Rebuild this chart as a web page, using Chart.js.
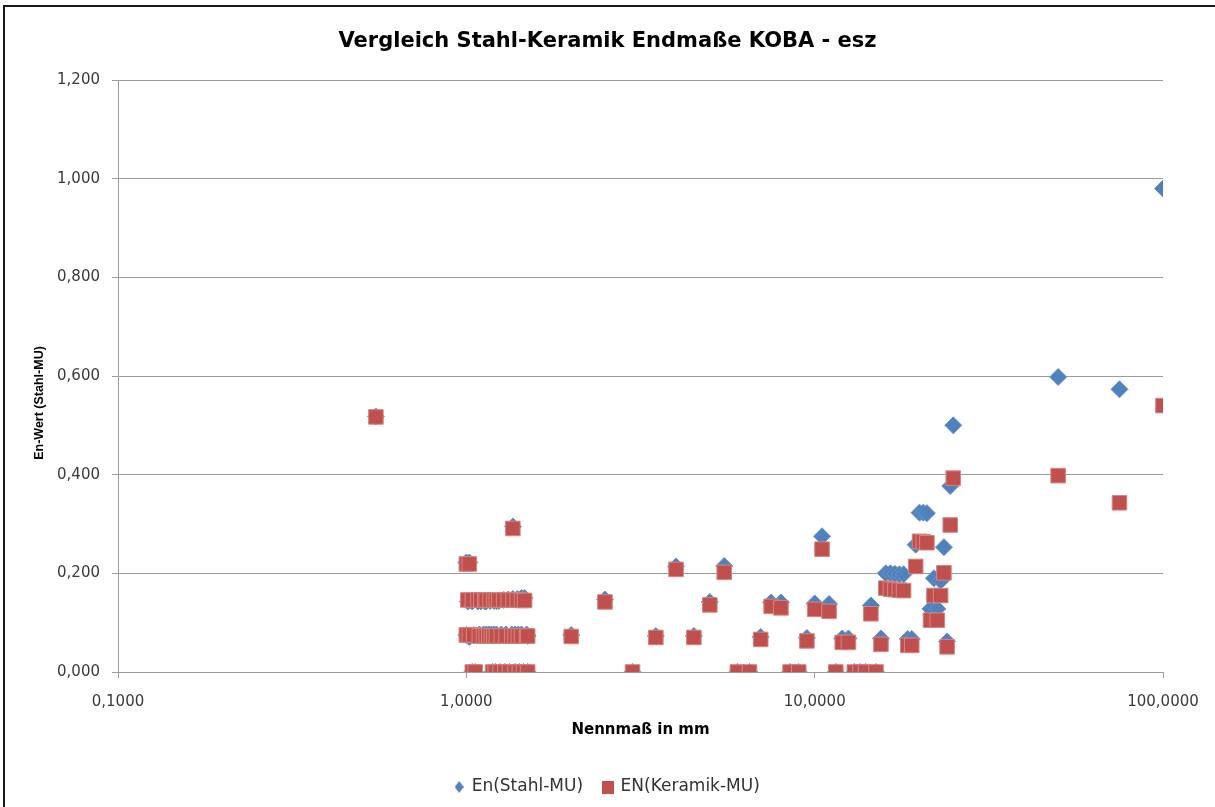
<!DOCTYPE html>
<html>
<head>
<meta charset="utf-8">
<script src="https://cdn.jsdelivr.net/npm/chart.js@4.4.1/dist/chart.umd.min.js"></script>
<style>
  html, body { margin: 0; padding: 0; background: #fff; }
  #wrap { position: relative; width: 1215px; height: 807px; overflow: hidden; }
  #c { position: absolute; left: 0; top: 0; }
  #frame { position: absolute; left: 3px; top: 5px; width: 1300px; height: 900px;
           border-left: 2px solid #1a1a1a; border-top: 2px solid #1a1a1a; pointer-events: none; }
</style>
</head>
<body>
<div id="wrap">
  <canvas id="c" width="1215" height="807"></canvas>
  <div id="frame"></div>
</div>
<script>
// ---- Data ----
const chartTitle = 'Vergleich Stahl-Keramik Endmaße KOBA - esz';
const xAxisTitle = 'Nennmaß in mm';
const yAxisTitle = 'En-Wert (Stahl-MU)';
const seriesNames = ['En(Stahl-MU)', 'EN(Keramik-MU)'];

const xTickValues = [0.1, 1, 10, 100];
const xTickLabels = ['0,1000', '1,0000', '10,0000', '100,0000'];
const yTickValues = [0, 0.2, 0.4, 0.6, 0.8, 1.0, 1.2];
const yTickLabels = ['0,000', '0,200', '0,400', '0,600', '0,800', '1,000', '1,200'];

// Nennmaß (mm)
const nennmass = [
  0.55,
  1.0, 1.02,
  1.36,
  1.01, 1.04, 1.08, 1.1, 1.13, 1.14, 1.17, 1.2, 1.22, 1.24, 1.28, 1.32, 1.36, 1.4, 1.44, 1.47,
  1.0, 1.02, 1.05, 1.09, 1.12, 1.14, 1.16, 1.18, 1.2, 1.22, 1.26, 1.3, 1.35, 1.38, 1.41, 1.44, 1.49, 1.5,
  1.04, 1.06, 1.19, 1.21, 1.25, 1.29, 1.33, 1.38, 1.42, 1.46, 1.5,
  2.0, 2.5, 3.0, 3.5, 4.0, 4.5, 5.0, 5.5, 6.0, 6.5, 7.0, 7.5, 8.0, 8.5, 9.0, 9.5,
  10, 10.5, 11, 11.5, 12, 12.5, 13, 13.5, 14, 14.5, 15, 15.5, 16, 16.5, 17, 17.5,
  18, 18.5, 19, 19.5, 20, 20.5, 21, 21.5, 22, 22.5, 23, 23.5, 24, 24.5, 25,
  50, 75, 100
];
// En(Stahl-MU)
const enStahl = [
  0.518,
  0.222, 0.222,
  0.295,
  0.143, 0.143, 0.143, 0.143, 0.143, 0.143, 0.144, 0.144, 0.144, 0.144, 0.146, 0.147, 0.148, 0.148, 0.150, 0.150,
  0.075, 0.071, 0.075, 0.076, 0.076, 0.076, 0.076, 0.076, 0.076, 0.076, 0.076, 0.076, 0.076, 0.076, 0.076, 0.076, 0.076, 0.073,
  0.0, 0.0, 0.0, 0.0, 0.0, 0.0, 0.0, 0.0, 0.0, 0.0, 0.0,
  0.075, 0.147, 0.0, 0.073, 0.214, 0.073, 0.142, 0.215, 0.0, 0.0, 0.071, 0.141, 0.141, 0.0, 0.0, 0.069,
  0.139, 0.275, 0.138, 0.0, 0.068, 0.068, 0.0, 0.0, 0.0, 0.135, 0.0, 0.068, 0.200, 0.200, 0.199, 0.198,
  0.198, 0.067, 0.067, 0.258, 0.323, 0.323, 0.322, 0.128, 0.190, 0.128, 0.185, 0.253, 0.062, 0.377, 0.500,
  0.598, 0.573, 0.980
];
// EN(Keramik-MU)
const enKeramik = [
  0.517,
  0.219, 0.219,
  0.291,
  0.146, 0.146, 0.146, 0.146, 0.146, 0.146, 0.146, 0.146, 0.146, 0.146, 0.146, 0.146, 0.146, 0.146, 0.145, 0.145,
  0.075, 0.075, 0.075, 0.073, 0.073, 0.073, 0.073, 0.073, 0.073, 0.073, 0.073, 0.073, 0.073, 0.073, 0.073, 0.073, 0.073, 0.073,
  0.0, 0.0, 0.0, 0.0, 0.0, 0.0, 0.0, 0.0, 0.0, 0.0, 0.0,
  0.072, 0.142, 0.0, 0.070, 0.208, 0.070, 0.136, 0.202, 0.0, 0.0, 0.066, 0.133, 0.130, 0.0, 0.0, 0.063,
  0.127, 0.249, 0.123, 0.0, 0.060, 0.060, 0.0, 0.0, 0.0, 0.118, 0.0, 0.056, 0.170, 0.168, 0.167, 0.166,
  0.165, 0.054, 0.054, 0.214, 0.265, 0.264, 0.262, 0.105, 0.155, 0.105, 0.155, 0.201, 0.051, 0.298, 0.393,
  0.398, 0.343, 0.540
];

const stahlPoints = nennmass.map((x, i) => ({ x: x, y: enStahl[i] }));
const keramikPoints = nennmass.map((x, i) => ({ x: x, y: enKeramik[i] }));

// small legend marker images
function makeMarker(kind) {
  const cv = document.createElement('canvas');
  if (kind === 'diamond') {
    cv.width = 9; cv.height = 12;
    const g = cv.getContext('2d');
    g.fillStyle = '#4F81BD';
    g.beginPath(); g.moveTo(4.5, 0); g.lineTo(9, 6); g.lineTo(4.5, 12); g.lineTo(0, 6); g.closePath(); g.fill();
  } else {
    cv.width = 12; cv.height = 13;
    const g = cv.getContext('2d');
    g.fillStyle = '#C0504D';
    g.fillRect(0, 0, 12, 13);
  }
  return cv;
}
const legendMarkers = [makeMarker('diamond'), makeMarker('square')];

const tickFont = { family: 'DejaVu Sans', size: 15 };
const gridColor = '#9c9c9c';

// y-axis title drawn rotated, positioned like the original (slightly below the plot centre)
const yTitlePlugin = {
  id: 'yTitle',
  afterDraw(chart) {
    const ctx = chart.ctx;
    ctx.save();
    ctx.translate(40, 403);
    ctx.rotate(-Math.PI / 2);
    ctx.font = 'bold 12.5px "Liberation Sans"';
    ctx.fillStyle = '#000';
    ctx.textAlign = 'center';
    ctx.textBaseline = 'middle';
    ctx.fillText(yAxisTitle, 0, 0);
    ctx.restore();
  }
};

new Chart(document.getElementById('c'), {
  type: 'scatter',
  data: {
    datasets: [
      {
        label: seriesNames[0],
        data: stahlPoints,
        pointStyle: 'rectRot',
        pointRadius: 8.5,
        pointHoverRadius: 8.5,
        backgroundColor: '#4F81BD',
        borderColor: '#6A94C8',
        borderWidth: 1,
        order: 2
      },
      {
        label: seriesNames[1],
        data: keramikPoints,
        pointStyle: 'rect',
        pointRadius: 10.3,
        pointHoverRadius: 10.3,
        backgroundColor: '#C0504D',
        borderColor: '#D58583',
        borderWidth: 1,
        order: 1
      }
    ]
  },
  plugins: [yTitlePlugin],
  options: {
    responsive: false,
    animation: false,
    devicePixelRatio: 1,
    layout: { padding: { left: 0, right: 0, top: 0, bottom: 1.5 } },
    plugins: {
      tooltip: { enabled: false },
      title: {
        display: true,
        text: chartTitle,
        color: '#000',
        font: { family: 'DejaVu Sans', size: 21, weight: 'bold' },
        padding: { top: 29.4, bottom: 25.4 }
      },
      legend: {
        position: 'bottom',
        labels: {
          color: '#333',
          font: { family: 'DejaVu Sans', size: 17 },
          usePointStyle: true,
          boxWidth: 8,
          boxHeight: 8,
          padding: 21,
          sort: (a, b) => a.datasetIndex - b.datasetIndex,
          generateLabels: (chart) => {
            const items = Chart.defaults.plugins.legend.labels.generateLabels(chart);
            items.forEach(it => { it.pointStyle = legendMarkers[it.datasetIndex]; });
            return items;
          }
        }
      }
    },
    scales: {
      x: {
        type: 'logarithmic',
        min: 0.1,
        max: 100,
        afterBuildTicks: (scale) => { scale.ticks = xTickValues.map(v => ({ value: v })); },
        afterFit: (scale) => { scale.height = 85.5; },
        ticks: {
          autoSkip: false,
          maxRotation: 0,
          padding: 15,
          color: '#3a3a3a',
          font: tickFont,
          callback: (value, index) => xTickLabels[index]
        },
        grid: { drawOnChartArea: false, drawTicks: true, tickLength: 6, color: gridColor },
        border: { display: true, color: gridColor, width: 1 },
        title: {
          display: true,
          text: xAxisTitle,
          color: '#000',
          font: { family: 'DejaVu Sans', size: 15, weight: 'bold' },
          padding: { top: 0, bottom: 18.5 }
        }
      },
      y: {
        type: 'linear',
        min: 0,
        max: 1.2,
        afterBuildTicks: (scale) => { scale.ticks = yTickValues.map(v => ({ value: v })); },
        afterFit: (scale) => { scale.width = 118; },
        ticks: {
          padding: 12,
          color: '#3a3a3a',
          font: tickFont,
          callback: (value, index) => yTickLabels[index]
        },
        grid: { drawOnChartArea: true, drawTicks: true, tickLength: 6, color: gridColor, lineWidth: 1 },
        border: { display: true, color: gridColor, width: 1 },
        title: { display: false }
      },
      yRightSpace: {
        type: 'linear',
        position: 'right',
        display: true,
        min: 0,
        max: 1.2,
        afterFit: (scale) => { scale.width = 52; },
        ticks: { display: false },
        grid: { display: false, drawTicks: false },
        border: { display: false }
      }
    }
  }
});
</script>
</body>
</html>
